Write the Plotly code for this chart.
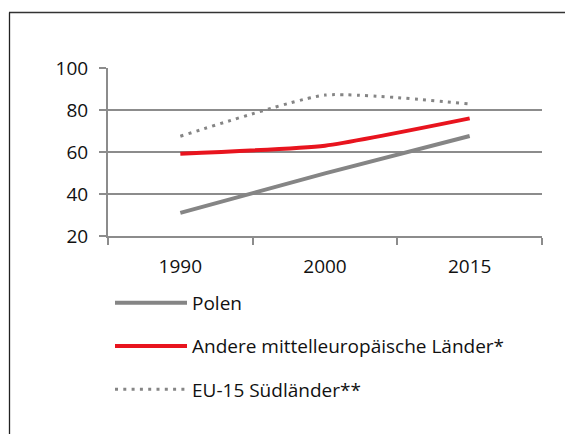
import plotly.graph_objects as go

years = ["1990", "2000", "2015"]
polen = [31, 49.8, 67.6]
andere = [59.2, 63.0, 76.0]
eu15_sued = [67.5, 87.1, 82.9]
y_ticks = [20, 40, 60, 80, 100]

W, H = 565, 434
ML, MR, MT, MB = 108, 23, 68, 198
pw = W - ML - MR
ph = H - MT - MB

def px_x(x):
    return (x - ML) / pw

def px_y(y):
    return (H - MB - y) / ph

FONT = "Open Sans"
GRAY = "#858585"
RED = "#e8141e"
GRID = "#8c8c8c"

fig = go.Figure()
fig.add_trace(go.Scatter(x=years, y=polen, name="Polen", mode="lines",
                         line=dict(color=GRAY, width=4, shape="spline", smoothing=0.5),
                         legendgroup="a"))
fig.add_trace(go.Scatter(x=years, y=andere, name="Andere mittelleuropäische Länder*", mode="lines",
                         line=dict(color=RED, width=4, shape="spline", smoothing=0.5),
                         legendgroup="b"))
fig.add_trace(go.Scatter(x=years, y=eu15_sued, name="EU-15 Südländer**", mode="lines",
                         line=dict(color=GRAY, width=3, shape="spline", smoothing=0.5, dash="3px,5.3px"),
                         legendgroup="c"))

fig.update_layout(
    width=W, height=H,
    margin=dict(l=ML, r=MR, t=MT, b=MB),
    paper_bgcolor="white", plot_bgcolor="white",
    font=dict(family=FONT, size=19, color="#111111"),
    showlegend=True,
    legend=dict(orientation="v", x=px_x(110), y=px_y(284), xanchor="left", yanchor="top",
                traceorder="grouped", tracegroupgap=15.5, itemwidth=72,
                font=dict(family=FONT, size=19, color="#111111"),
                bgcolor="rgba(0,0,0,0)"),
    xaxis=dict(type="category", showgrid=False, showline=True, linecolor=GRID, linewidth=2,
               ticks="outside", tickson="boundaries", ticklen=7, tickwidth=2, tickcolor=GRID,
               ticklabelstandoff=12, range=[-0.5, 2.5], fixedrange=True),
    yaxis=dict(range=[20, 100], tickvals=y_ticks, showgrid=True, gridcolor=GRID, gridwidth=2,
               showline=True, linecolor=GRID, linewidth=2, zeroline=False,
               ticks="outside", ticklen=7, tickwidth=2, tickcolor=GRID,
               ticklabelstandoff=7, fixedrange=True),
    shapes=[
        dict(type="line", xref="paper", yref="paper", x0=px_x(9), x1=px_x(W + 2),
             y0=px_y(12.5), y1=px_y(12.5), line=dict(color="#333333", width=1.3)),
        dict(type="line", xref="paper", yref="paper", x0=px_x(9.5), x1=px_x(9.5),
             y0=px_y(12.5), y1=px_y(H + 2), line=dict(color="#222222", width=1.3)),
    ],
)

fig.write_html("out.html", config={"displayModeBar": False},
               post_script="document.body.style.margin='0';document.body.style.overflow='hidden';")
